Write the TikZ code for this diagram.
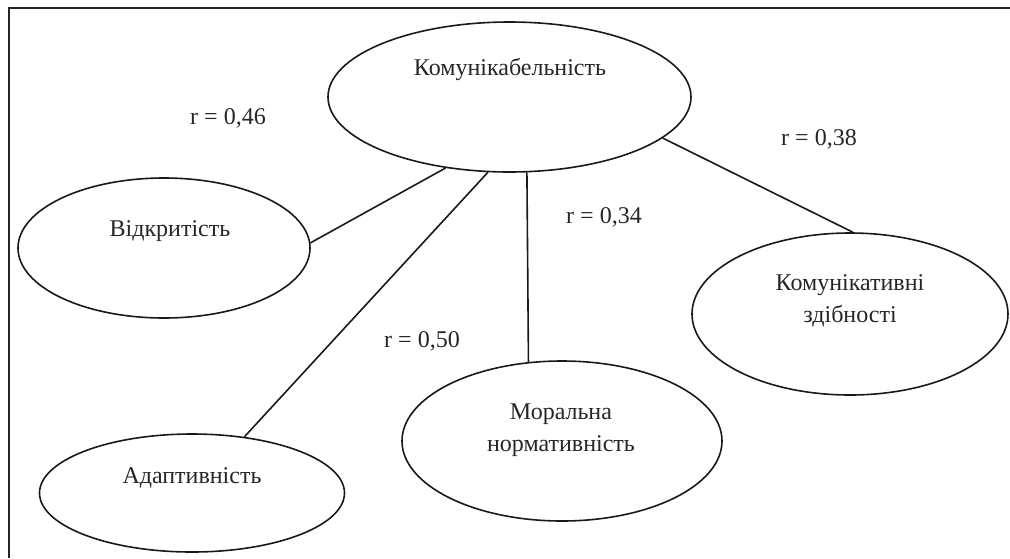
\documentclass[tikz,border=0pt]{standalone}
\usepackage{fontspec}
\setmainfont{Liberation Serif}
\usetikzlibrary{shapes.geometric}
\begin{document}
\begin{tikzpicture}[x=1pt,y=-1pt,
  oval/.style={draw, line width=1.6pt, black!90, ellipse, inner sep=0pt},
  lbl/.style={font=\fontsize{24}{32}\selectfont, inner sep=0pt, anchor=base, text=black!85},
  mlbl/.style={font=\fontsize{24}{32}\selectfont, inner sep=0pt, align=center, text=black!85},
  link/.style={line width=1.6pt, black!90}]
\useasboundingbox (0,0) rectangle (1010,558);
\draw[line width=2pt, black!85] (9,558) -- (9,8) -- (1010,8);
% ellipses
\node[oval, minimum width=363pt, minimum height=150pt] (kom) at (509.5,97) {};
\node[oval, minimum width=292pt, minimum height=140pt] (vid) at (164,248) {};
\node[oval, minimum width=305pt, minimum height=118pt] (ada) at (192,493) {};
\node[oval, minimum width=320pt, minimum height=160pt] (mor) at (562,441) {};
\node[oval, minimum width=316pt, minimum height=162pt] (zdi) at (850,314) {};
% texts
\node[lbl] (tkom) at (510,75) {Комунікабельність};
\node[lbl] (tvid) at (170,236) {Відкритість};
\node[lbl] (tada) at (192,483) {Адаптивність};
\node[mlbl] (tmor) at (561,430) {Моральна\\нормативність};
\node[mlbl] (tzdi) at (850,301) {Комунікативні\\здібності};
\node[lbl] (r46) at (228,124) {r = 0,46};
\node[lbl] (r38) at (819,145) {r = 0,38};
\node[lbl] (r34) at (604,223) {r = 0,34};
\node[lbl] (r50) at (422,347) {r = 0,50};
% connectors
\draw[link] (kom.228.2) -- (vid.2.8);
\draw[link] (kom.254) -- (ada.47.6);
\draw[link] (kom.283.9) -- (mor.113);
\draw[link] (kom.345.3) -- (zdi.88.6);
\end{tikzpicture}
\end{document}
